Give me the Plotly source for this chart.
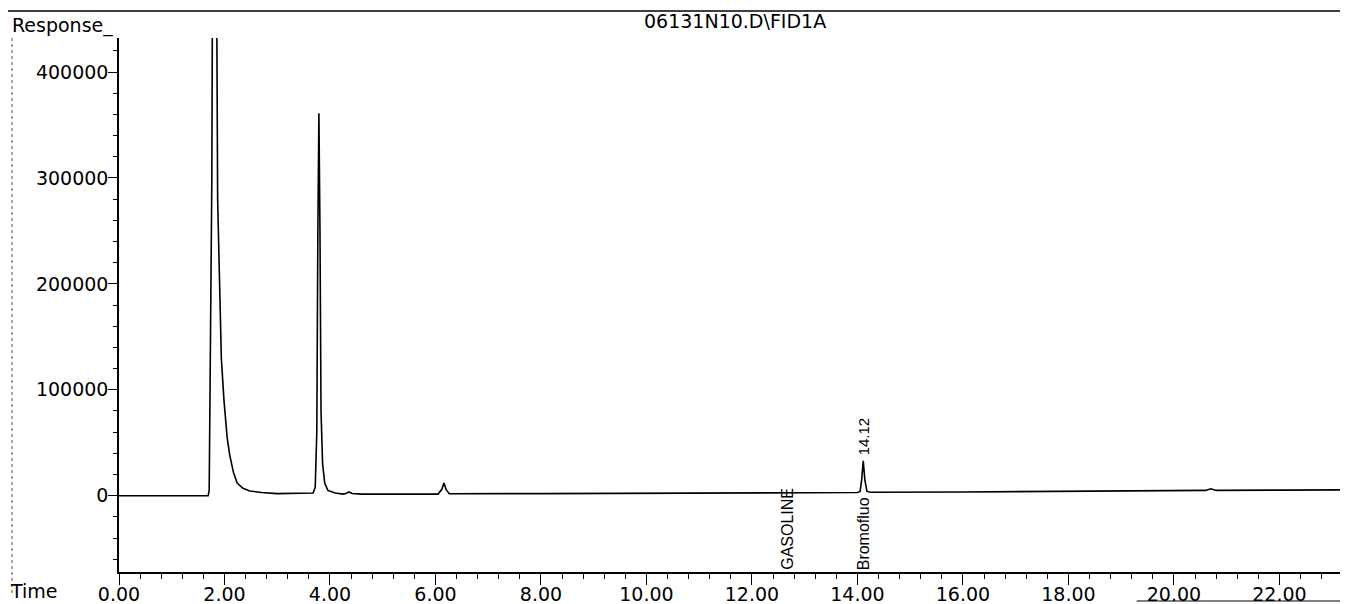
import plotly.graph_objects as go

# Chromatogram trace (time in min, response)
time = [0.0, 1.0, 1.69, 1.71, 1.72, 1.74, 1.76, 1.78, 1.84, 1.87, 1.90, 1.94, 1.99,
        2.05, 2.10, 2.17, 2.24, 2.35, 2.48, 2.70, 3.00, 3.50, 3.68, 3.72, 3.75,
        3.77, 3.79, 3.81, 3.83, 3.86, 3.90, 3.96, 4.10, 4.25, 4.30, 4.36, 4.42,
        4.60, 5.00, 5.10, 5.20, 6.05, 6.12, 6.16, 6.20, 6.26, 8.00, 10.00, 12.00,
        14.00, 14.05, 14.08, 14.11, 14.14, 14.18, 14.25, 16.00, 18.00, 20.00,
        20.60, 20.70, 20.80, 22.00, 23.30]
response = [0, 0, 0, 5000, 60000, 160000, 300000, 600000, 600000, 280000, 200000,
            130000, 90000, 55000, 38000, 22000, 12000, 7000, 4500, 3000, 2000, 2000,
            2500, 8000, 60000, 250000, 361000, 250000, 80000, 30000, 12000, 5000,
            2500, 1500, 2000, 3500, 2000, 1500, 1500, 2200, 1500, 1500, 6000, 12000,
            6000, 1800, 2000, 2500, 2800, 3000, 4000, 15000, 33000, 15000, 4000, 3200,
            3500, 4000, 4500, 5000, 6500, 5000, 5300, 5500]

# Peak labels
label_names = ["GASOLINE", "Bromofluo"]
label_times = [12.66, 14.12]
rt_label = "14.12"
rt_time = 14.12
rt_height = 36000

x_ticks = [0, 2, 4, 6, 8, 10, 12, 14, 16, 18, 20, 22]
y_ticks = [0, 100000, 200000, 300000, 400000]

FONT = "DejaVu Sans, Verdana, sans-serif"
LABEL_FONT = "Liberation Sans, Arial, sans-serif"
Y_MIN, Y_MAX = -72032, 432098

fig = go.Figure()
fig.add_trace(go.Scatter(x=time, y=response, mode="lines",
                         line=dict(color="black", width=1.6),
                         showlegend=False, hoverinfo="skip"))

# The page body adds an 8 px offset, so the figure is 8 px smaller each way
fig.update_layout(
    width=1340, height=596,
    margin=dict(l=111, r=0, t=30, b=32),
    paper_bgcolor="white", plot_bgcolor="white",
    font=dict(family=FONT, size=19, color="black"),
    xaxis=dict(range=[0, 23.30], tickvals=x_ticks,
               ticktext=[f"{v:.2f}" for v in x_ticks],
               automargin=False,
               showline=True, linecolor="black", linewidth=1.5,
               ticks="outside", ticklen=11, tickwidth=1.2, tickcolor="black",
               ticklabelstandoff=-7,
               minor=dict(dtick=0.4, tick0=0, ticks="outside", ticklen=5,
                          tickwidth=1, tickcolor="black"),
               showgrid=False, zeroline=False),
    yaxis=dict(range=[Y_MIN, Y_MAX], tickvals=y_ticks,
               ticktext=[str(v) for v in y_ticks],
               automargin=False,
               showline=True, linecolor="black", linewidth=1.5,
               ticks="outside", ticklen=9, tickwidth=1.2, tickcolor="black",
               ticklabelstandoff=-4,
               minor=dict(dtick=20000, tick0=0, ticks="outside", ticklen=4,
                          tickwidth=1, tickcolor="black"),
               showgrid=False, zeroline=False),
)

# Header / corner texts
fig.add_annotation(text="06131N10.D\\FID1A", xref="paper", yref="paper",
                   x=0.501, y=1.0318, xanchor="center", yanchor="middle",
                   showarrow=False, font=dict(size=19))
fig.add_annotation(text="Response_", xref="paper", yref="paper",
                   x=-0.0887, y=1.0243, xanchor="left", yanchor="middle",
                   showarrow=False, font=dict(size=19))
fig.add_annotation(text="Time", xref="paper", yref="paper",
                   x=-0.0903, y=-0.0355, xanchor="left", yanchor="middle",
                   showarrow=False, font=dict(size=19))

# Vertical compound labels at the bottom of the plot
for name, t in zip(label_names, label_times):
    fig.add_annotation(text=name, x=t, y=Y_MIN, xref="x", yref="y",
                       textangle=-90, xanchor="center", yanchor="bottom",
                       showarrow=False, font=dict(size=16, family=LABEL_FONT))
fig.add_annotation(text=rt_label, x=rt_time, y=rt_height, xref="x", yref="y",
                   textangle=-90, xanchor="center", yanchor="bottom",
                   showarrow=False, font=dict(size=15, family=LABEL_FONT))

# Page lines
fig.add_shape(type="line", xref="paper", yref="paper", x0=-0.0968, x1=1.0,
              y0=1.0506, y1=1.0506, line=dict(color="black", width=1.5))
fig.add_shape(type="line", xref="paper", yref="paper", x0=-0.0871, x1=-0.0871,
              y0=1.0, y1=-0.043, line=dict(color="#555555", width=1, dash="dot"))
fig.add_shape(type="line", xref="paper", yref="paper", x0=0.828, x1=1.0,
              y0=-0.0543, y1=-0.0543, line=dict(color="black", width=1))

fig.write_html("out.html")
